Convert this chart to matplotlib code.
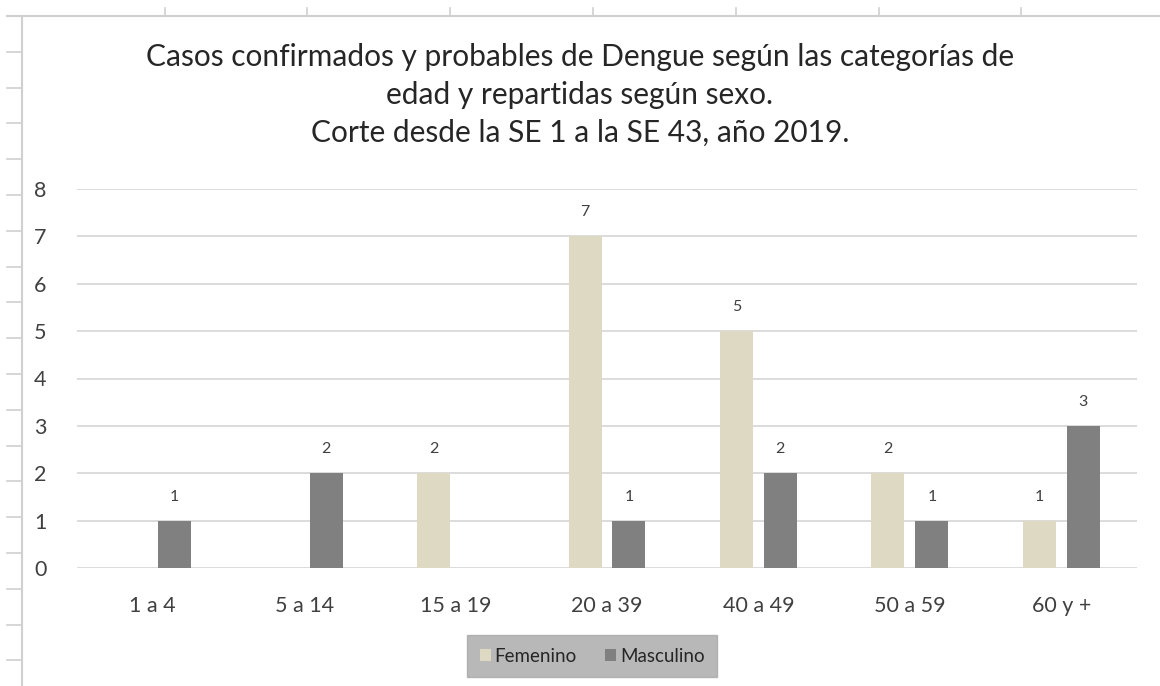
import matplotlib.pyplot as plt
from matplotlib.lines import Line2D
from matplotlib.patches import Patch
import numpy as np

plt.rcParams['font.family'] = ['Lato', 'DejaVu Sans']

categorias = ["1 a 4", "5 a 14", "15 a 19", "20 a 39", "40 a 49", "50 a 59", "60 y +"]
femenino = [0, 0, 2, 7, 5, 2, 1]
masculino = [1, 2, 0, 1, 2, 1, 3]
titulo = ("Casos confirmados y probables de Dengue según las categorías de\n"
          "edad y repartidas según sexo.\n"
          "Corte desde la SE 1 a la SE 43, año 2019.")

c_fem = "#DDD9C3"
c_mas = "#808080"
c_txt = "#404040"

W, H = 1160, 686
fig = plt.figure(figsize=(W / 100, H / 100), dpi=100)
ax = fig.add_axes([77 / W, 1 - 568 / H, (1137 - 77) / W, (568 - 189) / H])

x = np.arange(len(categorias))
bw = 0.218
off = 0.145
for i in range(len(categorias)):
    if femenino[i] > 0:
        ax.bar(x[i] - off, femenino[i], bw, color=c_fem, zorder=3)
        ax.text(x[i] - off, femenino[i] + 0.36, str(femenino[i]), ha="center",
                va="bottom", fontsize=11.5, color=c_txt)
    if masculino[i] > 0:
        ax.bar(x[i] + off, masculino[i], bw, color=c_mas, zorder=3)
        ax.text(x[i] + off, masculino[i] + 0.36, str(masculino[i]), ha="center",
                va="bottom", fontsize=11.5, color=c_txt)

ax.set_xlim(-0.5, len(categorias) - 0.5)
ax.set_ylim(0, 8)
ax.set_yticks(range(0, 9))
ax.set_xticks(x)
ax.set_xticklabels(categorias)
ax.tick_params(axis="y", length=0, pad=22, labelsize=15.5, labelcolor=c_txt)
ax.tick_params(axis="x", length=0, pad=20, labelsize=15.5, labelcolor=c_txt)
ax.grid(axis="y", color="#D9D9D9", linewidth=1.3, zorder=0)
for s in ax.spines.values():
    s.set_visible(False)

fig.text(0.5, 1 - 43 / H, titulo, ha="center", va="top", fontsize=21.5,
         color="#262626", linespacing=1.42)

handles = [Patch(facecolor=c_fem, label="Femenino"),
           Patch(facecolor=c_mas, label="Masculino")]
leg = fig.legend(handles=handles, loc="center", bbox_to_anchor=(592 / W, 1 - 656 / H),
                 ncol=2, frameon=True, fontsize=13.5, handlelength=0.6, handleheight=0.6,
                 handletextpad=0.2, columnspacing=1.5, fancybox=False,
                 borderpad=0.65, borderaxespad=0)
leg.get_frame().set_facecolor("#A6A6A6")
leg.get_frame().set_edgecolor("#A6A6A6")
for t in leg.get_texts():
    t.set_color("#262626")

# bordes de la hoja de calculo alrededor del grafico
g = "#D0D0D0"
fig.add_artist(Line2D([22 / W, 22 / W], [0, 1 - 16 / H], color=g, lw=1.5, transform=fig.transFigure))
fig.add_artist(Line2D([7 / W, 1], [1 - 16 / H, 1 - 16 / H], color=g, lw=1.5, transform=fig.transFigure))
for k in range(19):
    yy = 1 - (16 + 35.8 * k) / H
    fig.add_artist(Line2D([7 / W, 22 / W], [yy, yy], color=g, lw=1.2, transform=fig.transFigure))
for xx in [165, 307, 450, 593, 736, 879, 1021]:
    fig.add_artist(Line2D([xx / W, xx / W], [1 - 8 / H, 1 - 16 / H], color=g, lw=1.2, transform=fig.transFigure))

fig.savefig("out.png", dpi=100)
